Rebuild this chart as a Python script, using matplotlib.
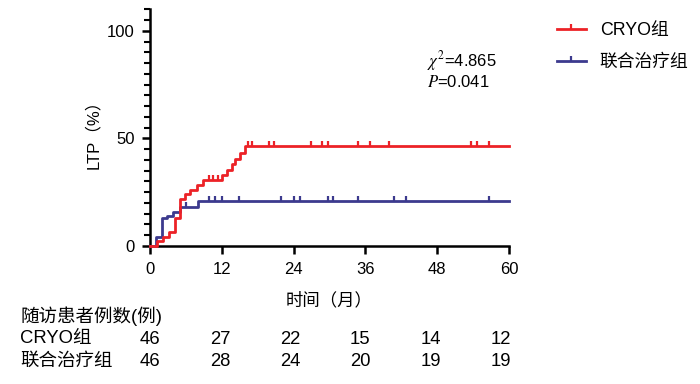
import numpy as np
import matplotlib
matplotlib.use("Agg")
import matplotlib.pyplot as plt
from matplotlib.path import Path
from matplotlib.lines import Line2D

plt.rcParams['font.family'] = ['Liberation Sans', 'Noto Sans CJK SC']
plt.rcParams['mathtext.fontset'] = 'stix'

# 累积 LTP 发生率 (%) 阶梯数据
cryo_t = [0, 1.1, 2.2, 3.2, 4.1, 5.0, 5.9, 6.7, 7.8, 8.9, 12.0, 12.8, 13.7, 14.2, 15.0, 15.9]
cryo_p = [0, 2.2, 4.3, 6.5, 13.0, 21.7, 23.9, 26.1, 28.3, 30.5, 32.8, 35.2, 38.0, 40.5, 43.0, 46.5]
cryo_cens = [9.8, 10.6, 11.3, 16.4, 17.0, 19.9, 20.8, 26.9, 28.8, 29.8, 34.8, 36.8, 39.9, 53.6, 54.7, 56.7]

combo_t = [0, 1.0, 2.0, 2.9, 3.9, 5.0, 8.1]
combo_p = [0, 4.3, 12.8, 13.9, 15.8, 18.2, 20.7]
combo_cens = [6.0, 9.8, 10.9, 12.0, 14.9, 21.9, 24.1, 25.0, 29.8, 30.6, 34.8, 40.8, 42.8, 56.7]

groups = ['CRYO组', '联合治疗组']
colors = ['#ec2227', '#3c3a8e']

# 随访患者例数
risk_times = [0, 12, 24, 36, 48, 60]
cryo_risk = [46, 27, 22, 15, 14, 12]
combo_risk = [46, 28, 24, 20, 19, 19]

t_end = 60

# 向上的删失标记
tick_marker = Path([(0, 0), (0, 1)])

fig = plt.figure(figsize=(7, 3.84), dpi=100)
ax = fig.add_axes([0.2143, 0.36, 0.5128, 0.6155])


def draw_curve(t, p, cens, color):
    t = np.array(t + [t_end])
    p = np.array(p + [p[-1]])
    ax.step(t, p, where='post', color=color, lw=2, clip_on=False, zorder=3)
    idx = np.searchsorted(t, cens, side='right') - 1
    ax.plot(cens, p[idx], ls='none', marker=tick_marker, ms=7, mew=1.6,
            color=color, clip_on=False, zorder=3)


draw_curve(combo_t, combo_p, combo_cens, colors[1])
draw_curve(cryo_t, cryo_p, cryo_cens, colors[0])

ax.set_xlim(0, 60)
ax.set_ylim(0, 110)
ax.set_xticks(risk_times)
ax.set_yticks([0, 50, 100])
ax.set_yticks(np.arange(0, 111, 5), minor=True)
ax.tick_params(axis='both', which='major', length=6, width=1.8, labelsize=12)
ax.tick_params(axis='x', which='major', pad=5.5)
ax.tick_params(axis='y', which='major', pad=5)
ax.tick_params(axis='y', which='minor', length=4, width=1.5)
for s in ['top', 'right']:
    ax.spines[s].set_visible(False)
for s in ['left', 'bottom']:
    ax.spines[s].set_linewidth(1.8)

ax.set_ylabel('LTP（%）', fontsize=12)
ax.yaxis.set_label_coords(-0.137, 0.49)
ax.set_xlabel('时间（月）', fontsize=12.5, labelpad=11)

# 统计量
ax.text(0.773, 0.76, r'$\chi^2$=4.865', transform=ax.transAxes, fontsize=12)
ax.text(0.773, 0.67, r'$P$=0.041', transform=ax.transAxes, fontsize=12)

# 图例
handles = [Line2D([], [], color=c, lw=2, marker=tick_marker, ms=7, mew=1.6) for c in colors]
fig.legend(handles, groups, loc='upper left', bbox_to_anchor=(0.773, 0.985),
           frameon=False, fontsize=12.8, handlelength=1.6, handletextpad=0.8,
           labelspacing=0.85)

# 风险表
ty = ax.get_xaxis_transform()
fs_tab = 13.3
fig.text(0.029, 1 - 316 / 384, '随访患者例数(例)', fontsize=fs_tab, va='center')
fig.text(0.029, 1 - 339 / 384, groups[0], fontsize=fs_tab, va='center')
fig.text(0.029, 1 - 361 / 384, groups[1], fontsize=fs_tab, va='center')
for t, a, b in zip(risk_times, cryo_risk, combo_risk):
    ax.annotate(str(a), xy=(t, 0), xycoords=ty, xytext=(-t * 0.1, 1 - 339 / 384),
                textcoords=('offset points', 'figure fraction'), ha='center', va='center', fontsize=fs_tab)
    ax.annotate(str(b), xy=(t, 0), xycoords=ty, xytext=(-t * 0.1, 1 - 361 / 384),
                textcoords=('offset points', 'figure fraction'), ha='center', va='center', fontsize=fs_tab)

fig.savefig('out.png', dpi=100)
